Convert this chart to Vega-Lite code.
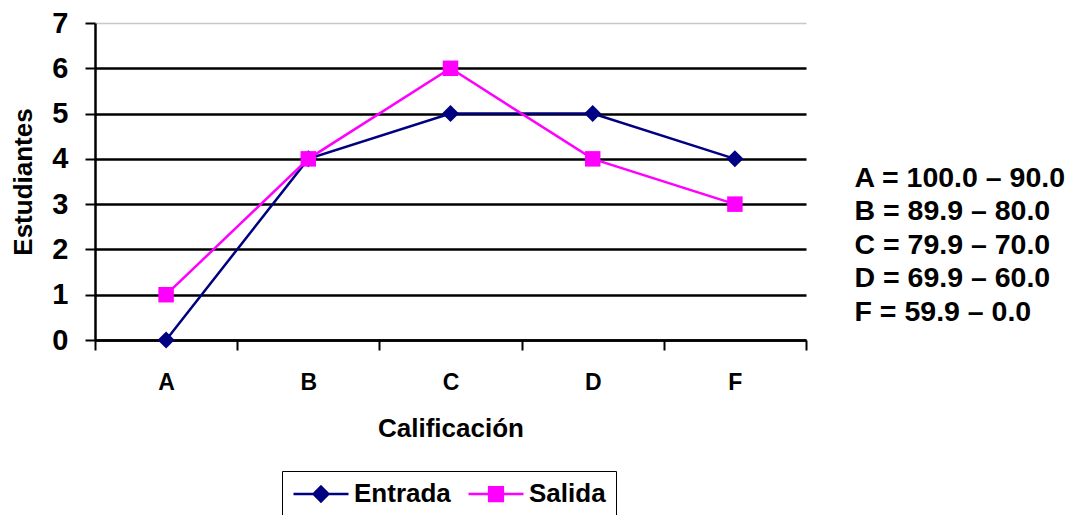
{
  "$schema": "https://vega.github.io/schema/vega-lite/v6.json",
  "width": 711,
  "height": 317,
  "autosize": "none",
  "padding": {"left": 95, "top": 23, "right": 282, "bottom": 175},
  "background": "white",
  "config": {"font": "Liberation Sans", "view": {"stroke": null}},
  "title": {
    "text": ["A = 100.0 – 90.0", "B = 89.9 – 80.0", "C = 79.9 – 70.0", "D = 69.9 – 60.0", "F = 59.9 – 0.0"],
    "orient": "right",
    "angle": 0,
    "anchor": "middle",
    "align": "left",
    "baseline": "middle",
    "frame": "group",
    "offset": -164,
    "dy": -4,
    "fontSize": 28.5,
    "fontWeight": "bold",
    "color": "black",
    "lineHeight": 33.5
  },
  "data": {
    "values": [
      {"nota": "A", "grupo": "Entrada", "estudiantes": 0},
      {"nota": "B", "grupo": "Entrada", "estudiantes": 4},
      {"nota": "C", "grupo": "Entrada", "estudiantes": 5},
      {"nota": "D", "grupo": "Entrada", "estudiantes": 5},
      {"nota": "F", "grupo": "Entrada", "estudiantes": 4},
      {"nota": "A", "grupo": "Salida", "estudiantes": 1},
      {"nota": "B", "grupo": "Salida", "estudiantes": 4},
      {"nota": "C", "grupo": "Salida", "estudiantes": 6},
      {"nota": "D", "grupo": "Salida", "estudiantes": 4},
      {"nota": "F", "grupo": "Salida", "estudiantes": 3}
    ]
  },
  "encoding": {
    "x": {
      "field": "nota",
      "type": "nominal",
      "sort": ["A", "B", "C", "D", "F"],
      "bandPosition": 0.5,
      "scale": {"type": "band", "paddingInner": 0, "paddingOuter": 0},
      "axis": {
        "title": "Calificación",
        "labelAngle": 0,
        "tickBand": "extent",
        "grid": false,
        "domainColor": "black",
        "domainWidth": 2.5,
        "tickColor": "black",
        "tickWidth": 2,
        "tickSize": 10,
        "labelFontSize": 23,
        "labelFontWeight": "bold",
        "labelColor": "black",
        "labelPadding": 21,
        "titleFontSize": 26,
        "titleFontWeight": "bold",
        "titleColor": "black",
        "titlePadding": 21
      }
    },
    "y": {
      "field": "estudiantes",
      "type": "quantitative",
      "scale": {"domain": [0, 7], "nice": false},
      "axis": {
        "title": "Estudiantes",
        "values": [0, 1, 2, 3, 4, 5, 6, 7],
        "grid": true,
        "gridColor": {"condition": {"test": "datum.value == 7", "value": "#c8c8c8"}, "value": "black"},
        "gridWidth": {"condition": {"test": "datum.value == 7", "value": 1.5}, "value": 2.5},
        "domainColor": "black",
        "domainWidth": 2.5,
        "tickColor": "black",
        "tickWidth": 2,
        "tickSize": 10,
        "labelFontSize": 29,
        "labelFontWeight": "bold",
        "labelColor": "black",
        "labelPadding": 17,
        "labelOverlap": false,
        "labelBound": false,
        "labelFlush": false,
        "titleFontSize": 26,
        "titleFontWeight": "bold",
        "titleColor": "black",
        "titlePadding": 15
      }
    }
  },
  "layer": [
    {
      "transform": [{"filter": "datum.grupo == 'Entrada'"}],
      "mark": {"type": "line", "strokeWidth": 2.5, "color": "#000080"}
    },
    {
      "transform": [{"filter": "datum.grupo == 'Salida'"}],
      "mark": {"type": "line", "strokeWidth": 2.5, "color": "#FF00FF"}
    },
    {
      "transform": [{"filter": "datum.grupo == 'Entrada'"}],
      "mark": {"type": "point", "shape": "diamond", "filled": true, "size": 290, "opacity": 1, "color": "#000080"}
    },
    {
      "transform": [{"filter": "datum.grupo == 'Salida'"}],
      "mark": {"type": "point", "shape": "square", "filled": true, "size": 240, "opacity": 1, "color": "#FF00FF"}
    },
    {
      "transform": [{"filter": "datum.estudiantes < 0"}],
      "mark": {"type": "point", "filled": true, "strokeWidth": 2.5, "opacity": 1},
      "encoding": {
        "color": {
          "field": "grupo",
          "type": "nominal",
          "scale": {"domain": ["Entrada", "Salida"], "range": ["#000080", "#FF00FF"]},
          "legend": {
            "title": null, "orient": "none", "legendX": 187, "legendY": 448, "direction": "horizontal",
            "padding": 10, "strokeColor": "black", "fillColor": "white",
            "symbolSize": 3025, "symbolStrokeWidth": 2.5, "symbolOpacity": 1, "clipHeight": 26,
            "labelFontSize": 26, "labelFontWeight": "bold", "labelColor": "black", "labelOffset": 4,
            "columnPadding": 16,
            "encode": {"legend": {"strokeWidth": {"value": 2}}}
          }
        },
        "stroke": {
          "field": "grupo",
          "type": "nominal",
          "scale": {"domain": ["Entrada", "Salida"], "range": ["#000080", "#FF00FF"]},
          "legend": {
            "title": null, "orient": "none", "legendX": 187, "legendY": 448, "direction": "horizontal",
            "padding": 10, "strokeColor": "black", "fillColor": "white",
            "symbolSize": 3025, "symbolStrokeWidth": 2.5, "symbolOpacity": 1, "clipHeight": 26,
            "labelFontSize": 26, "labelFontWeight": "bold", "labelColor": "black", "labelOffset": 4,
            "columnPadding": 16,
            "encode": {"legend": {"strokeWidth": {"value": 2}}}
          }
        },
        "shape": {
          "field": "grupo",
          "type": "nominal",
          "scale": {
            "domain": ["Entrada", "Salida"],
            "range": [
              "M-1,0H1M0,-0.27L0.27,0L0,0.27L-0.27,0Z",
              "M-1,0H1M-0.25,-0.25H0.25V0.25H-0.25Z"
            ]
          },
          "legend": {
            "title": null, "orient": "none", "legendX": 187, "legendY": 448, "direction": "horizontal",
            "padding": 10, "strokeColor": "black", "fillColor": "white",
            "symbolSize": 3025, "symbolStrokeWidth": 2.5, "symbolOpacity": 1, "clipHeight": 26,
            "labelFontSize": 26, "labelFontWeight": "bold", "labelColor": "black", "labelOffset": 4,
            "columnPadding": 16,
            "encode": {"legend": {"strokeWidth": {"value": 2}}}
          }
        }
      }
    }
  ]
}
